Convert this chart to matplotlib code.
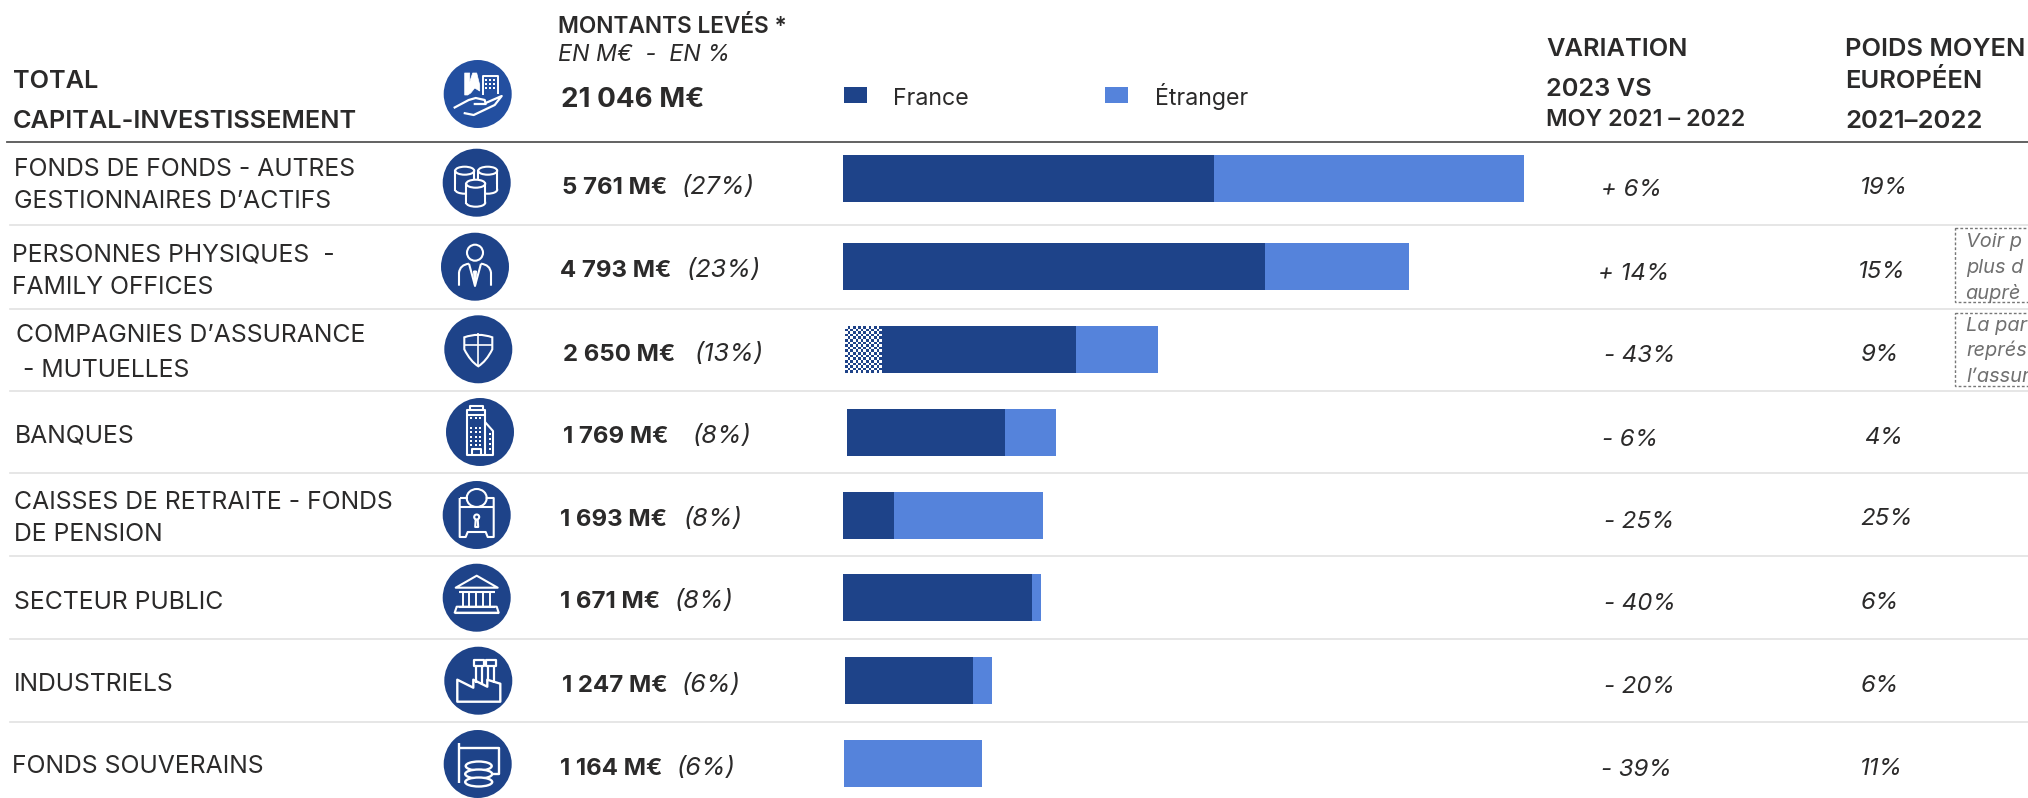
import numpy as np
import matplotlib
matplotlib.use("Agg")
import matplotlib.pyplot as plt
from matplotlib.patches import Circle, Ellipse, PathPatch, Polygon, Rectangle
from matplotlib.path import Path
from matplotlib.colors import ListedColormap

# --- Data ---
categories = [
    ["FONDS DE FONDS - AUTRES", "GESTIONNAIRES D’ACTIFS"],
    ["PERSONNES PHYSIQUES  -", "FAMILY OFFICES"],
    ["COMPAGNIES D’ASSURANCE", " - MUTUELLES"],
    ["BANQUES"],
    ["CAISSES DE RETRAITE - FONDS", "DE PENSION"],
    ["SECTEUR PUBLIC"],
    ["INDUSTRIELS"],
    ["FONDS SOUVERAINS"],
]
montants = ["5 761 M€", "4 793 M€", "2 650 M€", "1 769 M€", "1 693 M€", "1 671 M€", "1 247 M€", "1 164 M€"]
parts = ["(27%)", "(23%)", "(13%)", "(8%)", "(8%)", "(8%)", "(6%)", "(6%)"]
france_hachure = [0, 0, 313, 0, 0, 0, 0, 0]
france = [3139, 3579, 1641, 1337, 431, 1597, 1087, 0]
etranger = [2622, 1214, 696, 432, 1262, 74, 160, 1164]
variation = ["+ 6%", "+ 14%", "- 43%", "- 6%", "- 25%", "- 40%", "- 20%", "- 39%"]
poids = ["19%", "15%", "9%", "4%", "25%", "6%", "6%", "11%"]
note_voir = ["Voir p", "plus d", "auprè"]
note_part = ["La par", "représ", "l’assur"]

# --- Layout, in pixels of the 2028x798 picture ---
W, H = 2028, 798
BAR_LEFT, BAR_RIGHT, BAR_MAX = 843, 1524, 5761
M_PER_PX = BAR_MAX / (BAR_RIGHT - BAR_LEFT)
bar_y = [178.5, 266.5, 349.5, 432.5, 515.5, 597.5, 680.5, 763.5]
bar_nudge = [0, -1, 2, 4, 0, 0, 2, 1]
rule_y = [224.7, 308.5, 390.7, 473, 556, 639, 722]
label_x = [14, 12.5, 16, 15, 14, 14, 14, 12.5]
label_line_y = [[167, 199], [252, 285], [333, 368], [433], [500, 532], [600], [682], [764]]
value_x = [562, 560, 563, 563, 560, 560, 562, 560]
value_y = [185, 268, 352, 434, 517, 599, 683, 766]
part_x = [682, 687, 695, 693, 684, 675, 682, 677]
var_x = [1601, 1598, 1604, 1602, 1604, 1604, 1604, 1601]
var_y = [187, 271, 353, 437, 519, 601, 684, 767]
poids_x = [1860, 1858, 1861, 1864, 1860, 1860, 1860, 1860]
poids_y = [185, 269, 352, 435, 516, 600, 683, 766]
icon_xy = [(476.7, 182.7), (475, 266.7), (478.3, 349.3), (480, 432),
           (476.7, 515), (476.7, 597.7), (478.3, 680.7), (477.7, 764)]

DARK = "#1e4389"
LIGHT = "#5583db"
INK = "#2b2a2a"
FONT = "Inter"
LW = 1.5

plt.rcParams["font.family"] = [FONT, "DejaVu Sans"]


def px(size):
    return size * 72 / 100


fig = plt.figure(figsize=(W / 100, H / 100), dpi=100, facecolor="white")
ax = fig.add_axes([0, 0, 1, 1])
ax.set_xlim(0, W)
ax.set_ylim(H, 0)
ax.axis("off")


def text(x, y, s, size, weight="normal", style="normal", color=INK):
    # y is the middle of the capitals, so glyph shapes do not shift the line
    return ax.text(x, y + 0.364 * size, s, fontsize=px(size), fontweight=weight, fontstyle=style,
                   color=color, va="baseline", ha="left")


# --- Icons, drawn around a centre, offsets in pixels ---
def line(cx, cy, pts, lw=LW, closed=False, fill="none", z=5):
    ax.add_patch(Polygon([(cx + a, cy + b) for a, b in pts], closed=closed, fill=fill != "none",
                         facecolor=fill if fill != "none" else "none", edgecolor="white",
                         lw=lw, zorder=z, joinstyle="round"))


def curve(cx, cy, pts, codes, lw=LW, z=5, fill="none"):
    p = Path([(cx + a, cy + b) for a, b in pts], codes)
    ax.add_patch(PathPatch(p, facecolor=fill, edgecolor="white", lw=lw, zorder=z))


def dots(cx, cy, xs, ys, s=2.2, z=5):
    for a in xs:
        for b in ys:
            ax.add_patch(Rectangle((cx + a, cy + b), s, s, color="white", lw=0, zorder=z))


def cylinder(cx, cy, w, top, h, z):
    ax.add_patch(Rectangle((cx - w / 2, cy + top), w, h, facecolor=DARK, edgecolor="white", lw=LW, zorder=z))
    ax.add_patch(Ellipse((cx, cy + top + h), w, 8, facecolor=DARK, edgecolor="white", lw=LW, zorder=z))
    ax.add_patch(Rectangle((cx - w / 2 + 1, cy + top + h - 6), w - 2, 6, facecolor=DARK, lw=0, zorder=z + 0.1))
    ax.add_patch(Ellipse((cx, cy + top), w, 8, facecolor=DARK, edgecolor="white", lw=LW, zorder=z + 0.2))


def icon_fonds(cx, cy):
    cylinder(cx - 12, cy, 19, -12, 19, 3)
    cylinder(cx + 11, cy, 19, -12, 19, 3)
    cylinder(cx - 1, cy, 19, 1, 19, 4)


def icon_personne(cx, cy):
    ax.add_patch(Circle((cx, cy - 14), 8, fill=False, edgecolor="white", lw=LW, zorder=5))
    curve(cx, cy, [(-16, 19), (-16, 6), (-15, -2), (-6, -3)],
          [Path.MOVETO, Path.LINETO, Path.CURVE3, Path.CURVE3])
    curve(cx, cy, [(16, 19), (16, 6), (15, -2), (6, -3)],
          [Path.MOVETO, Path.LINETO, Path.CURVE3, Path.CURVE3])
    line(cx, cy, [(-6, -3), (0, 19), (6, -3)])
    line(cx, cy, [(-1, 4), (0, 19), (1, 4)], fill="white")


def icon_bouclier(cx, cy):
    pts = [(-14, -12), (0, -17), (14, -12), (14, 0), (8, 12), (0, 17), (-8, 12), (-14, 0), (-14, -12)]
    codes = [Path.MOVETO, Path.CURVE3, Path.CURVE3, Path.LINETO, Path.CURVE3, Path.CURVE3,
             Path.CURVE3, Path.CURVE3, Path.CLOSEPOLY]
    curve(cx, cy, pts, codes)
    line(cx, cy, [(0, -16), (0, 17)], lw=1.2)
    line(cx, cy, [(-14, -4), (14, -4)], lw=1.2)


def icon_banque(cx, cy):
    line(cx, cy, [(-13, 23), (-13, -22), (5, -22), (5, 23)], closed=True)
    line(cx, cy, [(-10, -22), (-10, -26), (3, -26), (3, -22)])
    line(cx, cy, [(-13, -17), (5, -17)])
    line(cx, cy, [(5, -10), (13, -1), (13, 23), (5, 23)])
    dots(cx, cy, [-10, -5.5, -1], [-15, -5, -1, 3.5, 8, 12])
    dots(cx, cy, [8.5], [1, 6, 11, 16])
    line(cx, cy, [(-8, 23), (-8, 17), (1, 17), (1, 23)])


def icon_caisse(cx, cy):
    line(cx, cy, [(-17, -17), (-9, -17)])
    line(cx, cy, [(9, -17), (17, -17), (17, 22), (11, 22), (9, 17), (-9, 17), (-11, 22), (-17, 22), (-17, -17)])
    line(cx, cy, [(-17, -8), (17, -8)])
    ax.add_patch(Ellipse((cx, cy - 17), 20, 18, fill=False, edgecolor="white", lw=LW, zorder=5))
    ax.add_patch(Circle((cx, cy + 2), 2.5, fill=False, edgecolor="white", lw=LW, zorder=5))
    line(cx, cy, [(-1, 4), (-1.5, 12), (1.5, 12), (1, 4)])


def icon_temple(cx, cy):
    line(cx, cy, [(-21, -10), (0, -22), (21, -10), (-21, -10)], closed=True)
    line(cx, cy, [(-18, -6), (18, -6)])
    for a in (-14, -8, -1, 6, 13):
        line(cx, cy, [(a, -6), (a, 9)], lw=1.4)
    line(cx, cy, [(-18, 9), (18, 9)])
    line(cx, cy, [(-20, 9), (20, 9), (22, 15), (-22, 15)], closed=True)
    line(cx, cy, [(-22, 15), (22, 15), (22, 15.5), (-22, 15.5)], closed=True)


def icon_usine(cx, cy):
    line(cx, cy, [(-21, 21), (-21, -1), (-5, 7), (-5, -1), (9, 6), (9, -1), (22, 3), (22, 21)],
         closed=True, lw=1.7)
    for a, b in ((-2, 4), (10, 16)):
        line(cx, cy, [(a, -15), (a, 2 if a < 0 else 0)], lw=1.6)
        line(cx, cy, [(b, -15), (b, 4 if a < 0 else 2)], lw=1.6)
    line(cx, cy, [(-4, -21), (6, -21), (6, -15), (-4, -15)], closed=True, lw=1.6)
    line(cx, cy, [(8, -21), (18, -21), (18, -15), (8, -15)], closed=True, lw=1.6)


def icon_souverain(cx, cy):
    line(cx, cy, [(-19, 19), (-19, -21)], lw=1.7)
    line(cx, cy, [(-19, -16), (21, -16), (21, 10), (15, 10)], lw=1.7)
    for b, w in ((-1, 26), (7, 27), (15, 27)):
        ax.add_patch(Ellipse((cx + 1, cy + b + 3), w, 9, facecolor=DARK, edgecolor="white", lw=1.7, zorder=5))


def icon_total(cx, cy):
    line(cx, cy, [(-13, 1), (-13, -21), (-8, -21), (-8, -12), (-5, -21), (-1, -21), (2, -9), (2, -3),
                  (-3, -6), (-7, -1), (-10, 1)], closed=True, fill="white", lw=0.5)
    line(cx, cy, [(5, 1), (5, -18), (20, -18), (20, 0)], lw=1.4)
    dots(cx, cy, [7.5, 11.5, 15.5], [-15, -11, -7], s=2.2)
    line(cx, cy, [(-24, 14), (-9, 6), (-2, 4), (7, 6), (8, 10), (-4, 10)], lw=1.6)
    line(cx, cy, [(8, 9), (24, 2), (17, 11), (-4, 21), (-14, 19)], lw=1.6)


icon_fns = [icon_fonds, icon_personne, icon_bouclier, icon_banque,
            icon_caisse, icon_temple, icon_usine, icon_souverain]

ax.add_patch(Circle((477.7, 94), 34, color="#234fa0", lw=0, zorder=2))
icon_total(477.7, 94)
for (cx, cy), fn in zip(icon_xy, icon_fns):
    ax.add_patch(Circle((cx, cy), 34, color=DARK, lw=0, zorder=2))
    fn(cx, cy)

# --- Rules ---
ax.plot([7, W], [141.7, 141.7], color="#555555", lw=1.3, zorder=1)
for y in rule_y:
    ax.plot([10, W], [y, y], color="#e2e2e2", lw=1.2, zorder=1)

# --- Header ---
text(12.5, 79, "TOTAL", 25.3, weight="semibold")
text(12.5, 119, "CAPITAL-INVESTISSEMENT", 25.3, weight="semibold")
text(558, 25, "MONTANTS LEVÉS *", 22.7, weight="semibold")
text(558, 53, "EN M€  -  EN %", 23.2, style="italic")
text(561, 97, "21 046 M€", 27.8, weight="bold")
text(1546, 47, "VARIATION", 25.4, weight="semibold")
text(1546, 87, "2023 VS", 25.4, weight="semibold")
text(1546, 117, "MOY 2021 – 2022", 23.4, weight="semibold")
text(1845, 47, "POIDS MOYEN", 25.5, weight="semibold")
text(1845, 79, "EUROPÉEN", 25.5, weight="semibold")
text(1845, 119, "2021–2022", 25.7, weight="semibold")

# --- Legend ---
ax.add_patch(Rectangle((844, 87), 23, 16, color=DARK, lw=0))
ax.add_patch(Rectangle((1105, 87), 23, 16, color=LIGHT, lw=0))
text(893, 97, "France", 23.2)
text(1155, 97, "Étranger", 23.2)

# --- Rows ---
for i, lines in enumerate(categories):
    for s, y in zip(lines, label_line_y[i]):
        text(label_x[i], y, s, 24.8)
    text(value_x[i], value_y[i], montants[i], 24, weight="bold")
    text(part_x[i], value_y[i], parts[i], 25.3, style="italic")
    text(var_x[i], var_y[i], variation[i], 24, style="italic")
    text(poids_x[i], poids_y[i], poids[i], 24, style="italic")

# --- Notes running off the right edge ---
NOTE = "#707070"
for top, bottom in ((228, 302), (313, 386)):
    ax.add_patch(Rectangle((1955, top), 120, bottom - top, fill=False, edgecolor="#777777",
                           lw=1, linestyle=(0, (2, 1.5))))
for s, y in zip(note_voir, (240, 266, 292)):
    text(1966, y, s, 20, style="italic", color=NOTE)
for s, y in zip(note_part, (324, 349, 375)):
    text(1966, y, s, 20, style="italic", color=NOTE)

# --- Stacked bars: x axis in M€, y axis in the picture's pixels ---
ax_bar = fig.add_axes([BAR_LEFT / W, 0, (BAR_RIGHT - BAR_LEFT) / W, 1])
ax_bar.set_xlim(0, BAR_MAX)
ax_bar.set_ylim(H, 0)
ax_bar.axis("off")
ax_bar.patch.set_alpha(0)

left = np.array(bar_nudge) * M_PER_PX
hatch = np.array(france_hachure, dtype=float)
solid = np.array(france, dtype=float)
foreign = np.array(etranger, dtype=float)
BAR_H = 47

ax_bar.barh(bar_y, foreign, left=left + hatch + solid, height=BAR_H, color=LIGHT, lw=0)
ax_bar.barh(bar_y, solid, left=left + hatch, height=BAR_H, color=DARK, lw=0)
hatch_bars = ax_bar.barh(bar_y, hatch, left=left, height=BAR_H, color="white", lw=0)

checker = np.indices((18, 14)).sum(axis=0) % 2
for i, bar in enumerate(hatch_bars):
    if hatch[i] > 0:
        ax_bar.imshow(checker, extent=(left[i], left[i] + hatch[i], bar_y[i] + BAR_H / 2, bar_y[i] - BAR_H / 2),
                      cmap=ListedColormap(["white", DARK]), interpolation="nearest", aspect="auto", zorder=3)
ax_bar.set_xlim(0, BAR_MAX)
ax_bar.set_ylim(H, 0)

fig.savefig("out.png", dpi=100)
